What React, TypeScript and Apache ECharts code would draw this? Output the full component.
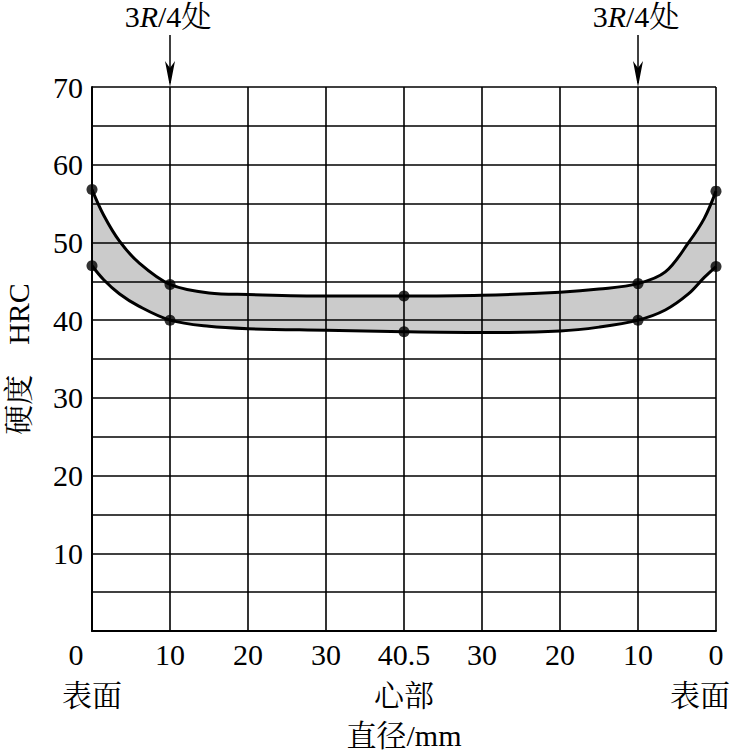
import React, { useEffect, useRef } from 'react';
import * as echarts from 'echarts';

// x positions are evenly spaced stations along the diameter: surface → centre → surface
const xTickLabels = ['0', '10', '20', '30', '40.5', '30', '20', '10', '0'];
const xAxisTitle = '直径/mm';
const yAxisTitle = '硬度\u3000HRC';

const curveX = [0, 0.15, 0.35, 0.6, 1, 1.5, 2, 3, 4, 5, 6, 6.5, 7, 7.35, 7.65, 7.85, 8];
const upperCurve = [56.8, 53.5, 50.2, 47.4, 44.6, 43.5, 43.3, 43.1, 43.1, 43.2, 43.6, 44.0, 44.7, 46.2, 50.0, 53.1, 56.6];
const lowerCurve = [47.0, 45.2, 43.4, 41.8, 40.0, 39.2, 38.9, 38.7, 38.5, 38.4, 38.6, 39.1, 40.0, 41.3, 43.4, 45.5, 46.9];

// measured points (dots)
const markerX = [0, 1, 4, 7, 8];
const upperMarkers = [56.8, 44.6, 43.1, 44.7, 56.6];
const lowerMarkers = [47.0, 40.0, 38.5, 40.0, 46.9];

const arrowX = [1, 7];
const positionLabels = [
  { x: 0, text: '表面', align: 'center' },
  { x: 4, text: '心部', align: 'center' },
  { x: 8, text: '表面', align: 'right' },
];

const FONT = "'Liberation Serif', 'Noto Serif CJK SC', 'Noto Sans CJK SC', serif";

export default function App() {
  const ref = useRef<HTMLDivElement>(null);

  useEffect(() => {
    const chart = echarts.init(ref.current!, null, { renderer: 'svg' });
    chart.setOption({
      animation: false,
      backgroundColor: '#ffffff',
      grid: { left: 92, right: 15, top: 87, bottom: 123, show: false, containLabel: false, outerBoundsMode: 'none' },
      xAxis: {
        type: 'value',
        min: 0,
        max: 8,
        interval: 1,
        z: 3,
        axisLine: { show: true, onZero: false, lineStyle: { color: '#000', width: 2 } },
        axisTick: { show: false },
        splitLine: { show: true, lineStyle: { color: '#000', width: 1.6 } },
        axisLabel: {
          margin: 8,
          color: '#000',
          fontFamily: FONT,
          fontSize: 30,
          formatter: (v: number) => {
            const i = Math.round(v);
            return i === 0 ? '{l|' + xTickLabels[0] + '}' : xTickLabels[i];
          },
          rich: { l: { padding: [0, 32, 0, 0], fontSize: 30, fontFamily: FONT, color: '#000' } },
        },
        name: xAxisTitle,
        nameLocation: 'middle',
        nameGap: 89,
        nameTextStyle: { color: '#000', fontFamily: FONT, fontSize: 30 },
      },
      yAxis: {
        type: 'value',
        min: 0,
        max: 70,
        interval: 5,
        z: 3,
        axisLine: { show: true, lineStyle: { color: '#000', width: 2 } },
        axisTick: { show: false },
        splitLine: { show: true, lineStyle: { color: '#000', width: 1.6 } },
        axisLabel: {
          margin: 9,
          color: '#000',
          fontFamily: FONT,
          fontSize: 30,
          formatter: (v: number) => (v !== 0 && v % 10 === 0 ? String(v) : ''),
        },
        name: yAxisTitle,
        nameLocation: 'middle',
        nameGap: 59,
        nameTextStyle: { color: '#000', fontFamily: FONT, fontSize: 30 },
      },
      series: [
        {
          type: 'line',
          name: 'upper',
          data: curveX.map((x, i) => [x, upperCurve[i]]),
          smooth: 0.35,
          symbol: 'none',
          lineStyle: { color: '#000', width: 3 },
          areaStyle: { color: '#cbcbcb', opacity: 1, origin: 'start' },
          z: 2,
        },
        {
          type: 'line',
          name: 'lower',
          data: curveX.map((x, i) => [x, lowerCurve[i]]),
          smooth: 0.35,
          symbol: 'none',
          lineStyle: { color: '#000', width: 3 },
          areaStyle: { color: '#ffffff', opacity: 1, origin: 'start' },
          z: 2.5,
        },
        {
          type: 'scatter',
          data: markerX.map((x, i) => [x, upperMarkers[i]]),
          symbolSize: 11,
          itemStyle: { color: '#000' },
          z: 10,
        },
        {
          type: 'scatter',
          data: markerX.map((x, i) => [x, lowerMarkers[i]]),
          symbolSize: 11,
          itemStyle: { color: '#000' },
          z: 10,
        },
      ],
    });

    const graphics: any[] = [];
    arrowX.forEach((ax) => {
      const [px, py] = chart.convertToPixel({ gridIndex: 0 }, [ax, 70]) as number[];
      graphics.push({
        type: 'line',
        shape: { x1: px, y1: 35, x2: px, y2: py - 4 },
        style: { stroke: '#000', lineWidth: 1.5 },
        z: 20,
      });
      graphics.push({
        type: 'polygon',
        shape: { points: [[px, py], [px - 5, py - 26], [px, py - 19], [px + 5, py - 26]] },
        style: { fill: '#000' },
        z: 20,
      });
      graphics.push({
        type: 'text',
        x: px - 2,
        y: 16,
        style: {
          text: '3{i|R}/4处',
          font: `30px ${FONT}`,
          fill: '#000',
          align: 'center',
          verticalAlign: 'middle',
          rich: { i: { fontStyle: 'italic', fontSize: 30, fontFamily: FONT, fill: '#000' } },
        },
        z: 20,
      });
    });
    positionLabels.forEach((p) => {
      const [px] = chart.convertToPixel({ gridIndex: 0 }, [p.x, 0]) as number[];
      graphics.push({
        type: 'text',
        x: p.align === 'right' ? px + 14 : px,
        y: 695,
        style: {
          text: p.text,
          font: `30px ${FONT}`,
          fill: '#000',
          align: p.align,
          verticalAlign: 'middle',
        },
        z: 20,
      });
    });
    chart.setOption({ graphic: graphics });

    return () => chart.dispose();
  }, []);

  return (
    <div
      ref={ref}
      style={{ position: 'fixed', left: 0, top: 0, width: 731, height: 754, background: '#fff' }}
    />
  );
}
